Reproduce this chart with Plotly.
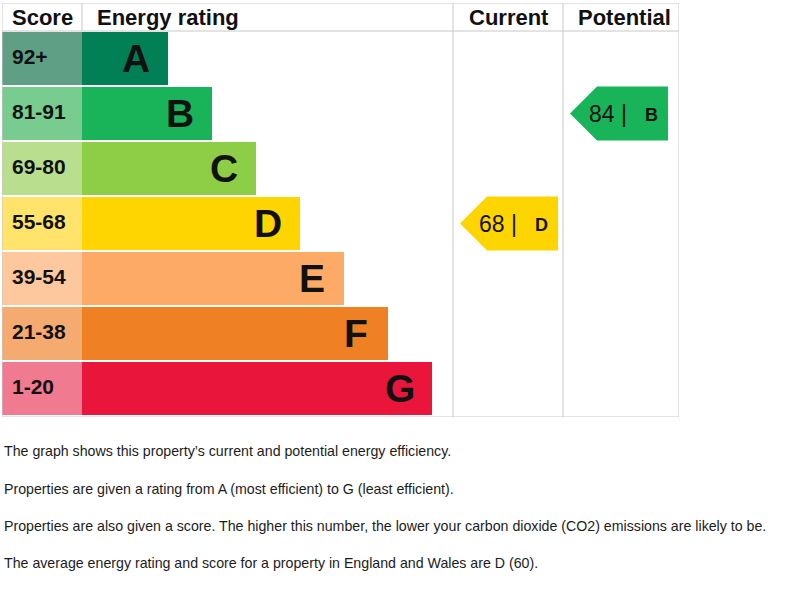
import plotly.graph_objects as go

# rating bands, top (best) to bottom (worst)
bands = ["A", "B", "C", "D", "E", "F", "G"]
score_ranges = ["92+", "81-91", "69-80", "55-68", "39-54", "21-38", "1-20"]
band_lengths = [86, 130, 174, 218, 262, 306, 350]
band_colours = ["#008054", "#19b459", "#8dce46", "#ffd500", "#fcaa65", "#ef8023", "#e9153b"]
score_colours = ["#5f9f86", "#78cc8f", "#b9df8e", "#ffe36a", "#fdc89e", "#f5aa70", "#f07a90"]

current_score = 68
current_band = "D"
potential_score = 84
potential_band = "B"

headers = ["Score", "Energy rating", "Current", "Potential"]

notes = [
    "The graph shows this property\u2019s current and potential energy efficiency.",
    "Properties are given a rating from A (most efficient) to G (least efficient).",
    "Properties are also given a score. The higher this number, the lower your carbon dioxide (CO2) emissions are likely to be.",
    "The average energy rating and score for a property in England and Wales are D (60).",
]

#layout constants (x axis in px from left of table)
score_w = 80
cur_col = (451, 561)
pot_col = (561, 677)
y_top = -1.009
y_bot = 6.518
grid_col = "#c8c8c8"
font_fam = "Arial, Liberation Sans, sans-serif"

rows = list(range(len(bands)))

fig = go.Figure()

#score column cells
fig.add_trace(go.Bar(y=rows, x=[score_w] * len(rows), base=0, orientation="h",
                     marker=dict(color=score_colours, line=dict(width=0)),
                     width=0.98, hoverinfo="skip", showlegend=False))
#rating bars
fig.add_trace(go.Bar(y=rows, x=band_lengths, base=score_w, orientation="h",
                     marker=dict(color=band_colours, line=dict(width=0)),
                     width=0.98, hoverinfo="skip", showlegend=False))

annotations = []
for i, b in enumerate(bands):
    annotations.append(dict(x=8, y=i - 0.04, text="<b>%s</b>" % score_ranges[i], xanchor="left",
                            showarrow=False, font=dict(size=21, color="#111111")))
    annotations.append(dict(x=score_w + band_lengths[i] - 32, y=i, text="<b>%s</b>" % b,
                            xanchor="center", showarrow=False, font=dict(size=39, color="#111111")))

#header
hy = (y_top - 0.5) / 2
annotations.append(dict(x=8, y=hy, text="<b>%s</b>" % headers[0], xanchor="left", showarrow=False,
                        font=dict(size=22, color="#111111")))
annotations.append(dict(x=93, y=hy, text="<b>%s</b>" % headers[1], xanchor="left", showarrow=False,
                        font=dict(size=22, color="#111111")))
annotations.append(dict(x=sum(cur_col) / 2 + 1, y=hy, text="<b>%s</b>" % headers[2], xanchor="center",
                        showarrow=False, font=dict(size=22, color="#111111")))
annotations.append(dict(x=sum(pot_col) / 2 + 3, y=hy, text="<b>%s</b>" % headers[3], xanchor="center",
                        showarrow=False, font=dict(size=22, color="#111111")))


def add_arrow(score, band, col_left):
    r = bands.index(band)
    tip = col_left + 7
    notch = tip + 27
    right = tip + 98
    fig.add_trace(go.Scatter(x=[tip, notch, right, right, notch, tip],
                             y=[r, r - 0.49, r - 0.49, r + 0.49, r + 0.49, r],
                             fill="toself", fillcolor=band_colours[r], mode="lines",
                             line=dict(width=0, color=band_colours[r]),
                             hoverinfo="skip", showlegend=False))
    annotations.append(dict(x=tip + 17, y=r, text="%d |" % score, xanchor="left", showarrow=False,
                            font=dict(size=23, color="#111111")))
    annotations.append(dict(x=right - 17, y=r + 0.02, text="<b>%s</b>" % band, xanchor="center",
                            showarrow=False, font=dict(size=18, color="#111111")))


add_arrow(current_score, current_band, cur_col[0])
add_arrow(potential_score, potential_band, pot_col[0])

#table lines
shapes = [
    dict(type="rect", x0=0, x1=pot_col[1], y0=y_top, y1=y_bot, line=dict(color=grid_col, width=1)),
    dict(type="line", x0=0, x1=pot_col[1], y0=-0.5, y1=-0.5, line=dict(color=grid_col, width=1)),
    dict(type="line", x0=score_w, x1=score_w, y0=y_top, y1=-0.5, line=dict(color=grid_col, width=1)),
    dict(type="line", x0=cur_col[0], x1=cur_col[0], y0=y_top, y1=y_bot, line=dict(color=grid_col, width=1)),
    dict(type="line", x0=pot_col[0], x1=pot_col[0], y0=y_top, y1=y_bot, line=dict(color=grid_col, width=1)),
]

#notes under the table
note_y = [451, 489, 526, 563]
for t, py in zip(notes, note_y):
    annotations.append(dict(xref="paper", yref="paper", x=0, y=(417 - py) / 414, text=t,
                            xanchor="left", yanchor="middle", showarrow=False,
                            font=dict(size=14.2, color="#1c1c1c")))

fig.update_layout(
    width=800, height=596,
    margin=dict(l=2, r=121, t=3, b=179),
    paper_bgcolor="white", plot_bgcolor="white",
    font=dict(family=font_fam),
    barmode="overlay", bargap=0,
    xaxis=dict(range=[0, 677], visible=False, fixedrange=True),
    yaxis=dict(range=[y_bot, y_top], visible=False, fixedrange=True),
    shapes=shapes, annotations=annotations,
    showlegend=False,
)

# drop the default page margin so the figure sits at the window corner
fig.write_html("out.html", config={"displayModeBar": False},
               post_script="document.body.style.margin='0px';")
